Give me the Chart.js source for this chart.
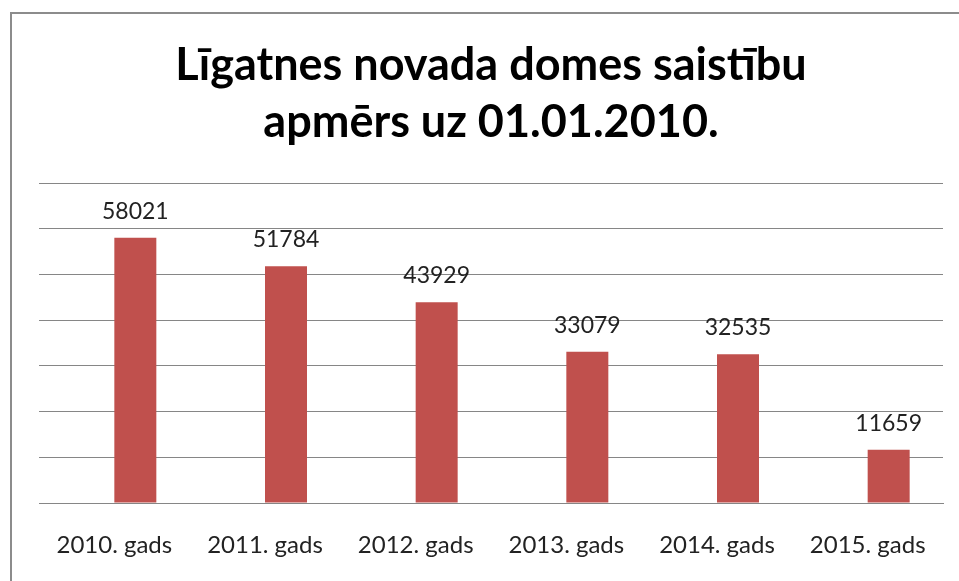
<!DOCTYPE html>
<html>
<head>
<meta charset="utf-8">
<script src="https://cdn.jsdelivr.net/npm/chart.js@4/dist/chart.umd.min.js"></script>
<style>
  html, body { margin: 0; padding: 0; background: #fff; overflow: hidden; }
  #wrap { position: relative; width: 959px; height: 581px; }
  #ramis { position: absolute; left: 10px; top: 12px; right: -20px; bottom: -20px;
           border-left: 2px solid #8c8c8c; border-top: 2px solid #8c8c8c; }
  canvas { position: absolute; left: 0; top: 0; }
</style>
</head>
<body>
<div id="wrap">
  <div id="ramis"></div>
  <canvas id="myChart" width="959" height="581"></canvas>
</div>
<script>
var gadi = ['2010. gads', '2011. gads', '2012. gads', '2013. gads', '2014. gads', '2015. gads'];
var saistibas = [58021, 51784, 43929, 33079, 32535, 11659];
// otra (tuksa) serija, kas aizņem vietu kreisajā pusē
var tuksaSerija = [null, null, null, null, null, null];
var virsraksts = ['Līgatnes novada domes saistību', 'apmērs uz 01.01.2010.'];

// vertibas virs stabiem
var vertibuPlugin = {
  id: 'vertibas',
  afterDatasetsDraw: function(chart) {
    var ctx = chart.ctx;
    var meta = chart.getDatasetMeta(1);
    ctx.save();
    ctx.font = '23px Lato';
    ctx.fillStyle = '#222';
    ctx.textAlign = 'center';
    ctx.textBaseline = 'alphabetic';
    meta.data.forEach(function(bar, i) {
      ctx.fillText(saistibas[i], bar.x, bar.y - 19);
    });
    ctx.restore();
  }
};

var graficar = document.getElementById('myChart');
var grafico = new Chart(graficar, {
  type: 'bar',
  data: {
    labels: gadi,
    datasets: [{
      label: 'tukšs',
      data: tuksaSerija,
      backgroundColor: '#C0504D'
    }, {
      label: 'Saistības',
      data: saistibas,
      backgroundColor: '#C0504D'
    }]
  },
  options: {
    responsive: false,
    animation: false,
    layout: { padding: { left: 39, right: 16, top: 0, bottom: 22 } },
    datasets: { bar: { barPercentage: 1, categoryPercentage: 0.5575 } },
    plugins: {
      legend: { display: false },
      tooltip: { enabled: false },
      title: {
        display: true,
        text: virsraksts,
        color: '#000',
        font: { family: 'Lato', size: 45, weight: 'bold', lineHeight: 1.267 },
        padding: { top: 37, bottom: 32 }
      }
    },
    scales: {
      x: {
        grid: { display: false, drawTicks: false },
        border: { display: true, color: '#868686', width: 1 },
        ticks: { color: '#222', font: { family: 'Lato', size: 24 }, padding: 28, maxRotation: 0 },
        afterFit: function(scale) { scale.height = 56; }
      },
      y: {
        min: 0,
        max: 70000,
        grid: { color: '#868686', lineWidth: 1, drawTicks: false },
        border: { display: false },
        ticks: { display: false, stepSize: 10000 }
      }
    }
  },
  plugins: [vertibuPlugin]
});
</script>
</body>
</html>
